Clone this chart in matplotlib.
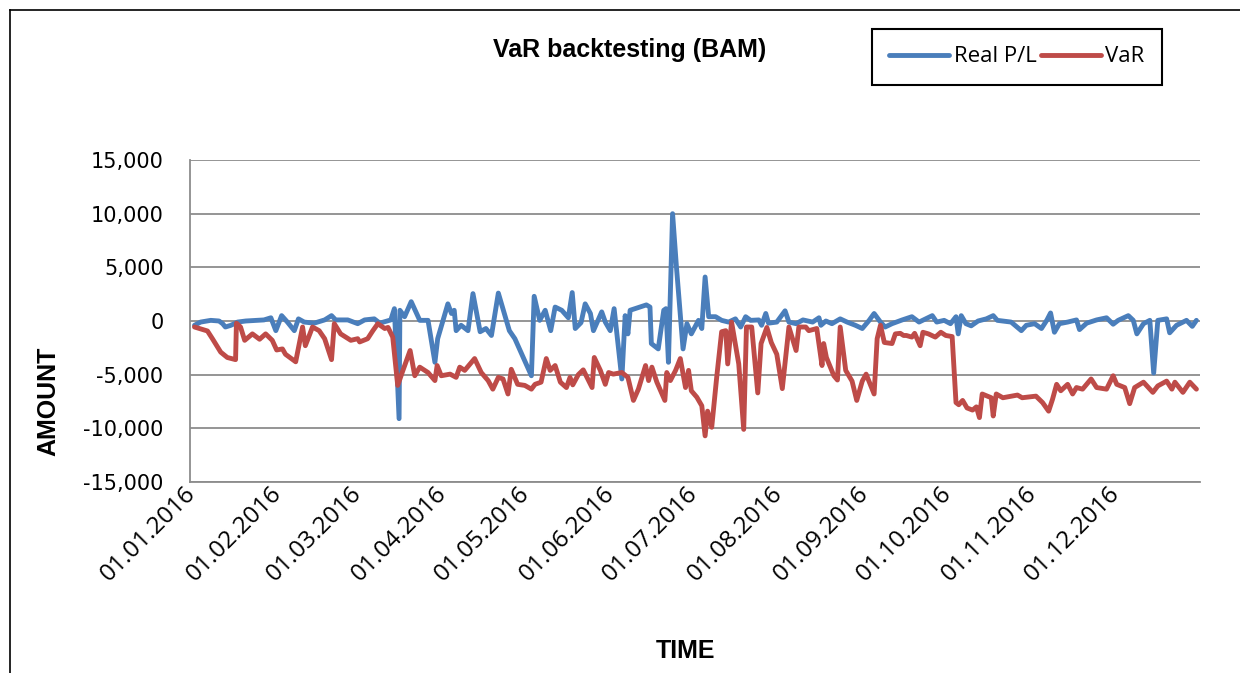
#!/usr/bin/env python3
import numpy as np
import matplotlib
matplotlib.use('Agg')
import matplotlib.pyplot as plt
import matplotlib.dates as mdates
from matplotlib.lines import Line2D

# days counted from 01.01.2016
pl_days = [0.8, 3, 6.7, 9.7, 11, 12, 14, 16.4, 19.4, 23.6, 26, 28.5, 30.3, 32.4, 34.5,
           37, 38.5, 40.6, 44.2, 48, 50.5, 52, 56.4, 60, 62.5, 66, 68, 72, 73.3, 75,
           75.3, 77, 79.4, 82.5, 85.5, 88, 89, 92.7, 94, 95, 95.7, 97.5, 100, 101.8,
           104.4, 106.5, 108.5, 111, 115, 117, 123, 124, 126, 128, 130, 131.6, 134,
           136.4, 137.8, 138.9, 141, 142.5, 144.4, 145.5, 148.5, 149.8, 151.6, 153,
           155.8, 157, 158, 158.8, 162.4, 164.7, 166, 166.5, 169, 171, 171.8, 172.7,
           174.2, 175.6, 178, 179.4, 181, 183.6, 184.8, 186, 187.3, 189.8, 192, 194.5,
           197, 198.9, 200.7, 202.5, 205.5, 206.5, 208, 209, 212, 215, 216.4, 219,
           221.5, 225, 227.3, 228, 229.8, 232, 235, 237.5, 240.5, 243, 245.5, 247.3,
           249.6, 251.3, 253.8, 257.5, 261, 263.6, 266, 268.4, 270, 272.7, 275, 277,
           277.8, 278.9, 280.6, 282.5, 285, 288, 290.5, 292, 297, 300.7, 302.5, 305.5,
           308, 310, 311.3, 312.7, 314.5, 317.5, 320.7, 321.8, 324.4, 328, 331.6, 334,
           335.8, 339.5, 341.3, 342.6, 345, 347.3, 348.7, 350.2, 353.4, 354.5, 357,
           360.6, 362.7, 364.2]
pl_vals = [-400, -100, 60, 0, -250, -560, -400, -100, 0, 60, 100, 300, -900, 500, -100,
           -900, 200, -100, -200, 100, 500, 100, 100, -250, 100, 200, -200, 100, 1150, -9100,
           1000, 400, 1800, 60, 60, -3850, -1650, 1600, 700, 1000, -900, -400, -900, 2550,
           -1000, -700, -1350, 2600, -900, -1650, -5100, 2300, 60, 1000, -900, 1300, 1000,
           300, 2650, -700, -150, 1600, 700, -900, 850, -100, -900, 1150,
           -5400, 500, -1200, 1000, 1300, 1500, 1300, -2100, -2600, 1000, 1150, -3850,
           10000, 5050, -2600, -250, -1200, 60, -700, 4100, 400, 400, 60, -100,
           200, -560, 400, 60, 100, -400, 700, -200, -100, 950, -100, -250,
           100, -100, 300, -400, 0, -250, 200, -100, -400, -700, 60, 700,
           -100, -560, -250, 100, 400, -100, 200, 500, -100, 60, -250, 400,
           -1200, 500, -250, -450, 0, 200, 500, 60, -100, -900, -400, -250,
           -700, 100, 750, -1050, -250, -100, 100, -800, -200, 100, 300, -300,
           60, 500, 60, -1200, -250, 60, -4850, 60, 200, -1100, -400,
           60, -500, 60]

var_days = [0.8, 5.5, 7.3, 10.3, 12.7, 15.7, 16, 17.5, 19, 21.8, 24.4, 26.6, 29, 30.6,
            32.7, 33.8, 37.5, 40, 41, 43.6, 46, 48, 50.5, 51.5, 53.8, 57.5, 60, 60.7,
            63.6, 65.5, 67.3, 69.8, 71, 72.7, 74.5, 76.4, 79, 80.7, 82.5, 85.5, 88, 88.8,
            90.3, 93.5, 95.7, 97, 98.8, 102.4, 104.8, 107.3, 109, 111, 112.7, 114.5,
            115.7, 118, 120.6, 123, 124.3, 126.5, 128.4, 129.8, 131.6, 133.5, 135.7, 137,
            138, 140, 141.8, 145, 145.8, 148, 149.8, 151, 152.7, 155.8, 158, 160, 161.8,
            164.4, 165.5, 166.7, 168.5, 171.4, 172.1, 173.4, 175.3, 177, 178.9, 180, 181,
            183, 184.8, 186, 186.9, 188.4, 190.2, 192, 193.5, 194.2, 195.6, 198.2, 200,
            201, 202.9, 205.1, 206.3, 208.4, 210, 212, 214, 216.4, 217.5, 219, 220,
            222.5, 223.6, 226.5, 228.4, 229, 230, 232.7, 234, 235, 237, 239.3, 241, 243,
            244.4, 247.3, 248.4, 249.6, 251, 253.8, 255, 256.8, 258, 259, 261, 262, 264,
            265, 267, 269.5, 271.5, 273.3, 275.6, 277, 278, 279.4, 281, 283, 284.4, 285.5,
            286.5, 288.4, 289.8, 290.5, 291.6, 294, 299.3, 301, 306, 308.4, 310.6, 312,
            313.5, 315, 317.5, 319.3, 320.7, 322.9, 326, 328, 331.6, 334, 335.3, 338.2,
            340, 341.8, 345, 348.4, 350.2, 353.4, 355.3, 356.4, 359.3, 361.8, 364.2]
var_vals = [-560, -930, -1650, -2900, -3400, -3600, -200, -560, -1800, -1200, -1700, -1200, -1800, -2700,
            -2600, -3100, -3800, -560, -2300, -560, -900, -1650, -3600, -250, -1200, -1800, -1650, -1950,
            -1650, -900, -250, -700, -600, -1500, -6000, -4600, -2750, -5100, -4300, -4800, -5550, -4150,
            -5100, -4950, -5250, -4300, -4600, -3500, -4800, -5550, -6350, -5250, -5400, -6800,
            -4500, -5900, -6000, -6350, -5900, -5700, -3500, -4600, -4150, -5700, -6200, -5250,
            -5950, -5000, -4550, -6200, -3400, -4600, -5900, -4800, -4950, -4800, -5250, -7400, -6350,
            -4150, -5550, -4300, -5700, -7400, -4800, -5550, -4600, -3500, -6200, -4600, -6500,
            -7100, -7900, -10700, -8400, -9900, -5250, -1000, -900, -4000, -100, -4000, -10100,
            -560, -560, -6700, -2100, -600, -2000, -3100, -6300, -560, -1500, -2750, -560,
            -560, -900, -700, -4150, -2100, -3400, -5100, -5500, -560, -4600, -5600, -7400, -5600,
            -4950, -6800, -1650, -400, -2000, -2100, -1200, -1150, -1350, -1350, -1500, -1150, -2300,
            -1050, -1200, -1500, -1050, -1350, -1450, -7600, -7800, -7400, -8100, -8300, -8000, -9000,
            -6800, -7000, -7150, -8850, -6800, -7150, -6900, -7150, -7000, -7600, -8400, -7300,
            -5900, -6500, -5900, -6800, -6200, -6350, -5400, -6200, -6350, -5100, -5900, -6200,
            -7700, -6200, -5700, -6650, -6050, -5600, -6350, -5700, -6650, -5700, -6350]

y_ticks = [-15000, -10000, -5000, 0, 5000, 10000, 15000]


def to_dates(days):
    base = np.datetime64('2016-01-01T00:00')
    return base + (np.array(days) * 1440).astype('timedelta64[m]')


def main():
    fig = plt.figure(figsize=(12.4, 6.73), dpi=100)
    ax = fig.add_axes([190 / 1240, 1 - 482 / 673, 1010 / 1240, 322 / 673])

    ax.plot(to_dates(pl_days), pl_vals, color='#4A7EBB', lw=3.5, label='Real P/L',
            solid_joinstyle='round', solid_capstyle='round')
    ax.plot(to_dates(var_days), var_vals, color='#BE4B48', lw=3.5, label='VaR',
            solid_joinstyle='round', solid_capstyle='round')

    ax.set_ylim(-15000, 15000)
    ax.set_yticks(y_ticks)
    ax.yaxis.set_major_formatter(matplotlib.ticker.FuncFormatter(lambda v, p: f'{int(v):,}'))
    ax.set_xlim(np.datetime64('2015-12-31T04:00'), np.datetime64('2016-12-31T12:00'))
    ax.xaxis.set_major_locator(mdates.MonthLocator(bymonthday=1))
    ax.xaxis.set_major_formatter(mdates.DateFormatter('%d.%m.%Y'))

    ax.grid(True, axis='y', color='#8C8C8C', lw=1.3)
    ax.set_axisbelow(True)
    for s in ['top', 'right']:
        ax.spines[s].set_visible(False)
    for s in ['left', 'bottom']:
        ax.spines[s].set_color('#8C8C8C')
        ax.spines[s].set_linewidth(1.3)
    ax.tick_params(axis='y', length=0, pad=19, labelsize=15)
    ax.tick_params(axis='x', length=0, pad=6)
    for lab in ax.get_xticklabels():
        lab.set_rotation(45)
        lab.set_ha('right')
        lab.set_va('center')
        lab.set_rotation_mode('anchor')
        lab.set_fontfamily('Open Sans')
        lab.set_fontsize(17.5)

    fig.text(630 / 1240, 1 - 50 / 673, 'VaR backtesting (BAM)', ha='center', va='center',
             fontsize=18, fontweight='bold', family='Liberation Sans')
    fig.text(686 / 1240, 1 - 651 / 673, 'TIME', ha='center', va='center',
             fontsize=18, fontweight='bold', family='Liberation Sans')
    fig.text(48 / 1240, 1 - 401 / 673, 'AMOUNT', ha='center', va='center', rotation=90,
             fontsize=18, fontweight='bold', family='Liberation Sans')

    leg = fig.legend(loc='center', bbox_to_anchor=(1017 / 1240, 1 - 57 / 673), ncol=2,
                     fancybox=False, edgecolor='black', framealpha=1,
                     prop={'family': 'Open Sans', 'size': 16}, handlelength=2.7,
                     handletextpad=0.2, columnspacing=0.2, borderpad=0.8)
    leg.get_frame().set_linewidth(1.5)

    # outer chart border (top and left edges visible)
    fig.add_artist(Line2D([10 / 1240, 10 / 1240], [0, 1 - 10 / 673], color='black', lw=1.2))
    fig.add_artist(Line2D([10 / 1240, 1], [1 - 10 / 673, 1 - 10 / 673], color='black', lw=1.2))

    fig.savefig('out.png', dpi=100)


if __name__ == '__main__':
    main()
